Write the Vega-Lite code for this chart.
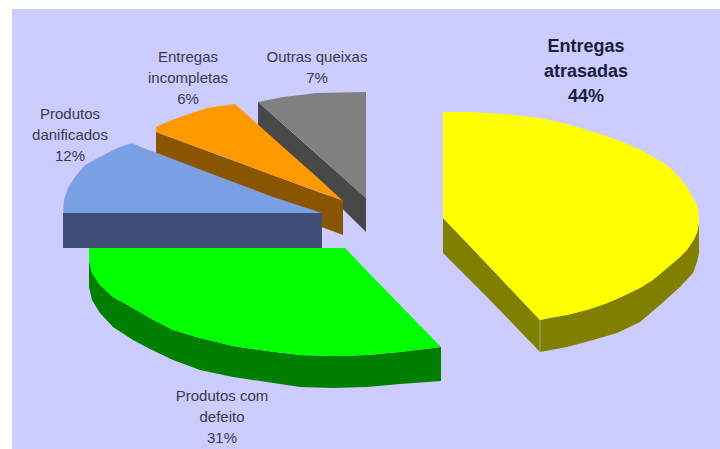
{
  "$schema": "https://vega.github.io/schema/vega-lite/v6.json",
  "autosize": "none",
  "width": 708,
  "height": 440,
  "padding": {"left": 12, "top": 9, "right": 0, "bottom": 0},
  "background": "#FFFFFC",
  "view": {"fill": "#CCCCFF", "stroke": null},
  "layer": [
    {
      "data": {"values": [
        {"face": "Outras lateral", "x": 258, "y": 102, "y2": 125},
        {"face": "Outras lateral", "x": 366, "y": 198, "y2": 232},
        {"face": "Outras topo", "x": 258, "y": 102, "y2": 102},
        {"face": "Outras topo", "x": 283, "y": 97, "y2": 124},
        {"face": "Outras topo", "x": 317, "y": 93, "y2": 154},
        {"face": "Outras topo", "x": 340, "y": 92.5, "y2": 175},
        {"face": "Outras topo", "x": 366, "y": 92, "y2": 198},
        {"face": "Incompletas lateral", "x": 156, "y": 132, "y2": 165},
        {"face": "Incompletas lateral", "x": 343, "y": 201, "y2": 235},
        {"face": "Incompletas topo", "x": 156, "y": 127, "y2": 132},
        {"face": "Incompletas topo", "x": 167, "y": 122, "y2": 136},
        {"face": "Incompletas topo", "x": 180, "y": 117, "y2": 141},
        {"face": "Incompletas topo", "x": 207, "y": 108, "y2": 151},
        {"face": "Incompletas topo", "x": 220, "y": 106, "y2": 155},
        {"face": "Incompletas topo", "x": 235, "y": 104, "y2": 161},
        {"face": "Incompletas topo", "x": 283, "y": 147, "y2": 179},
        {"face": "Incompletas topo", "x": 317, "y": 177, "y2": 191},
        {"face": "Incompletas topo", "x": 343, "y": 201, "y2": 201},
        {"face": "Danificados lateral", "x": 63, "y": 213, "y2": 248},
        {"face": "Danificados lateral", "x": 322, "y": 213, "y2": 248},
        {"face": "Danificados topo", "x": 63, "y": 213, "y2": 213},
        {"face": "Danificados topo", "x": 64, "y": 200, "y2": 213},
        {"face": "Danificados topo", "x": 68, "y": 188, "y2": 213},
        {"face": "Danificados topo", "x": 75, "y": 177, "y2": 213},
        {"face": "Danificados topo", "x": 85, "y": 165, "y2": 213},
        {"face": "Danificados topo", "x": 100, "y": 157, "y2": 213},
        {"face": "Danificados topo", "x": 117, "y": 148, "y2": 213},
        {"face": "Danificados topo", "x": 132, "y": 143, "y2": 213},
        {"face": "Danificados topo", "x": 143, "y": 148, "y2": 213},
        {"face": "Danificados topo", "x": 157, "y": 153, "y2": 213},
        {"face": "Danificados topo", "x": 220, "y": 177, "y2": 213},
        {"face": "Danificados topo", "x": 273, "y": 197, "y2": 213},
        {"face": "Danificados topo", "x": 322, "y": 213, "y2": 213},
        {"face": "Defeito lateral", "x": 89, "y": 260, "y2": 287},
        {"face": "Defeito lateral", "x": 92, "y": 273, "y2": 300},
        {"face": "Defeito lateral", "x": 100, "y": 285, "y2": 313},
        {"face": "Defeito lateral", "x": 113, "y": 297, "y2": 327},
        {"face": "Defeito lateral", "x": 133, "y": 308, "y2": 340},
        {"face": "Defeito lateral", "x": 150, "y": 318, "y2": 349},
        {"face": "Defeito lateral", "x": 173, "y": 330, "y2": 360},
        {"face": "Defeito lateral", "x": 200, "y": 338, "y2": 370},
        {"face": "Defeito lateral", "x": 233, "y": 346, "y2": 377},
        {"face": "Defeito lateral", "x": 267, "y": 351, "y2": 382},
        {"face": "Defeito lateral", "x": 300, "y": 355, "y2": 387},
        {"face": "Defeito lateral", "x": 333, "y": 356, "y2": 388},
        {"face": "Defeito lateral", "x": 367, "y": 355, "y2": 387},
        {"face": "Defeito lateral", "x": 400, "y": 352, "y2": 384},
        {"face": "Defeito lateral", "x": 441, "y": 347, "y2": 381},
        {"face": "Defeito topo", "x": 89, "y": 248, "y2": 260},
        {"face": "Defeito topo", "x": 92, "y": 248, "y2": 273},
        {"face": "Defeito topo", "x": 100, "y": 248, "y2": 285},
        {"face": "Defeito topo", "x": 113, "y": 248, "y2": 297},
        {"face": "Defeito topo", "x": 133, "y": 248, "y2": 308},
        {"face": "Defeito topo", "x": 150, "y": 248, "y2": 318},
        {"face": "Defeito topo", "x": 173, "y": 248, "y2": 330},
        {"face": "Defeito topo", "x": 200, "y": 248, "y2": 338},
        {"face": "Defeito topo", "x": 233, "y": 248, "y2": 346},
        {"face": "Defeito topo", "x": 267, "y": 248, "y2": 351},
        {"face": "Defeito topo", "x": 300, "y": 248, "y2": 355},
        {"face": "Defeito topo", "x": 333, "y": 248, "y2": 356},
        {"face": "Defeito topo", "x": 345, "y": 248, "y2": 356},
        {"face": "Defeito topo", "x": 367, "y": 271, "y2": 355},
        {"face": "Defeito topo", "x": 400, "y": 305, "y2": 352},
        {"face": "Defeito topo", "x": 441, "y": 347, "y2": 347},
        {"face": "Atrasadas lateral", "x": 443, "y": 218, "y2": 253},
        {"face": "Atrasadas lateral", "x": 487, "y": 264, "y2": 297},
        {"face": "Atrasadas lateral", "x": 540, "y": 320, "y2": 352},
        {"face": "Atrasadas lateral", "x": 567, "y": 315, "y2": 347},
        {"face": "Atrasadas lateral", "x": 593, "y": 308, "y2": 340},
        {"face": "Atrasadas lateral", "x": 617, "y": 299, "y2": 333},
        {"face": "Atrasadas lateral", "x": 640, "y": 288, "y2": 322},
        {"face": "Atrasadas lateral", "x": 660, "y": 274, "y2": 305},
        {"face": "Atrasadas lateral", "x": 680, "y": 257, "y2": 287},
        {"face": "Atrasadas lateral", "x": 693, "y": 241, "y2": 273},
        {"face": "Atrasadas lateral", "x": 697, "y": 233, "y2": 262},
        {"face": "Atrasadas lateral", "x": 699, "y": 223, "y2": 253},
        {"face": "Atrasadas topo", "x": 443, "y": 112, "y2": 218},
        {"face": "Atrasadas topo", "x": 470, "y": 112, "y2": 246},
        {"face": "Atrasadas topo", "x": 487, "y": 113, "y2": 264},
        {"face": "Atrasadas topo", "x": 503, "y": 114, "y2": 281},
        {"face": "Atrasadas topo", "x": 520, "y": 116, "y2": 299},
        {"face": "Atrasadas topo", "x": 540, "y": 118, "y2": 320},
        {"face": "Atrasadas topo", "x": 553, "y": 121, "y2": 317},
        {"face": "Atrasadas topo", "x": 567, "y": 124, "y2": 315},
        {"face": "Atrasadas topo", "x": 587, "y": 130, "y2": 310},
        {"face": "Atrasadas topo", "x": 605, "y": 135.5, "y2": 304},
        {"face": "Atrasadas topo", "x": 620, "y": 141, "y2": 297.5},
        {"face": "Atrasadas topo", "x": 640, "y": 149.5, "y2": 288},
        {"face": "Atrasadas topo", "x": 653, "y": 157, "y2": 280},
        {"face": "Atrasadas topo", "x": 667, "y": 165, "y2": 268},
        {"face": "Atrasadas topo", "x": 673, "y": 171, "y2": 263},
        {"face": "Atrasadas topo", "x": 680, "y": 178, "y2": 257},
        {"face": "Atrasadas topo", "x": 687, "y": 187, "y2": 250},
        {"face": "Atrasadas topo", "x": 693, "y": 198, "y2": 241},
        {"face": "Atrasadas topo", "x": 697, "y": 205, "y2": 233},
        {"face": "Atrasadas topo", "x": 699, "y": 218, "y2": 223}
      ]},
      "mark": {"type": "area", "interpolate": "linear", "opacity": 1},
      "encoding": {
        "x": {"field": "x", "type": "quantitative", "scale": {"domain": [12, 720], "nice": false, "zero": false}, "axis": null},
        "y": {"field": "y", "type": "quantitative", "scale": {"domain": [449, 9], "nice": false, "zero": false}, "axis": null},
        "y2": {"field": "y2"},
        "color": {
          "field": "face",
          "type": "nominal",
          "legend": null,
          "sort": null,
          "scale": {
            "domain": ["Outras lateral", "Outras topo", "Incompletas lateral", "Incompletas topo", "Danificados lateral", "Danificados topo", "Defeito lateral", "Defeito topo", "Atrasadas lateral", "Atrasadas topo"],
            "range": ["#484848", "#808080", "#8A5500", "#FF9900", "#3F4F78", "#7B9FE3", "#007F00", "#00FF00", "#808000", "#FFFF00"]
          }
        }
      }
    },
    {
      "data": {"values": [{"x": 540, "y": 320, "y2": 352}]},
      "mark": {"type": "rule", "color": "#A8A890", "strokeWidth": 1},
      "encoding": {
        "x": {"field": "x", "type": "quantitative", "scale": {"domain": [12, 720], "nice": false, "zero": false}, "axis": null},
        "y": {"field": "y", "type": "quantitative", "scale": {"domain": [449, 9], "nice": false, "zero": false}, "axis": null},
        "y2": {"field": "y2"}
      }
    },
    {
      "data": {"values": [
        {"label": "Produtos com\ndefeito\n31%", "share": 31, "x": 222, "y": 396},
        {"label": "Produtos\ndanificados\n12%", "share": 12, "x": 70, "y": 114},
        {"label": "Entregas\nincompletas\n6%", "share": 6, "x": 188, "y": 57},
        {"label": "Outras queixas\n7%", "share": 7, "x": 317, "y": 57}
      ]},
      "mark": {"type": "text", "lineBreak": "\n", "align": "center", "baseline": "middle", "font": "Liberation Sans", "fontSize": 15, "lineHeight": 21, "color": "#3A3A48"},
      "encoding": {
        "x": {"field": "x", "type": "quantitative", "scale": {"domain": [12, 720], "nice": false, "zero": false}, "axis": null},
        "y": {"field": "y", "type": "quantitative", "scale": {"domain": [449, 9], "nice": false, "zero": false}, "axis": null},
        "text": {"field": "label"}
      }
    },
    {
      "data": {"values": [
        {"label": "Entregas\natrasadas\n44%", "share": 44, "x": 586, "y": 47}
      ]},
      "mark": {"type": "text", "lineBreak": "\n", "align": "center", "baseline": "middle", "font": "Liberation Sans", "fontSize": 18, "fontWeight": "bold", "lineHeight": 25, "color": "#1C1C3C"},
      "encoding": {
        "x": {"field": "x", "type": "quantitative", "scale": {"domain": [12, 720], "nice": false, "zero": false}, "axis": null},
        "y": {"field": "y", "type": "quantitative", "scale": {"domain": [449, 9], "nice": false, "zero": false}, "axis": null},
        "text": {"field": "label"}
      }
    }
  ]
}
